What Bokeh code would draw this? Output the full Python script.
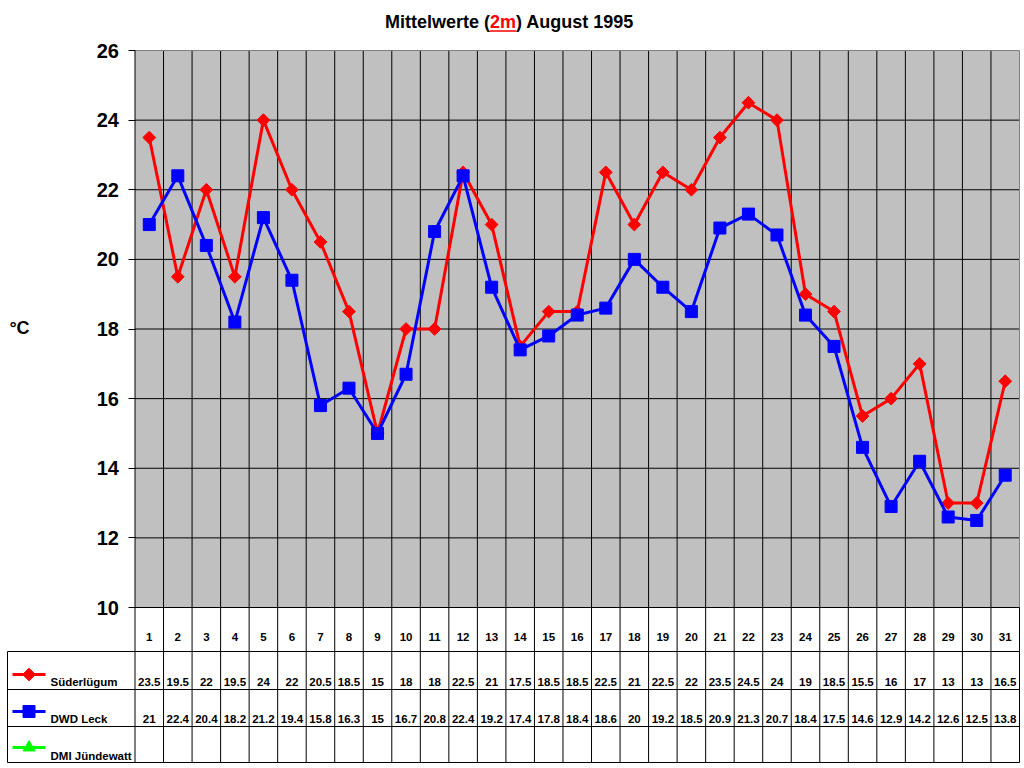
import math
from bokeh.plotting import figure
from bokeh.models import Range1d, FixedTicker, LinearAxis
from bokeh.core.properties import value
from bokeh.embed import file_html
from bokeh.resources import INLINE

# ---------------- data ----------------
days = list(range(1, 32))
sueder = [23.5, 19.5, 22, 19.5, 24, 22, 20.5, 18.5, 15, 18, 18, 22.5, 21, 17.5, 18.5, 18.5,
          22.5, 21, 22.5, 22, 23.5, 24.5, 24, 19, 18.5, 15.5, 16, 17, 13, 13, 16.5]
dwd = [21, 22.4, 20.4, 18.2, 21.2, 19.4, 15.8, 16.3, 15, 16.7, 20.8, 22.4, 19.2, 17.4, 17.8, 18.4,
       18.6, 20, 19.2, 18.5, 20.9, 21.3, 20.7, 18.4, 17.5, 14.6, 12.9, 14.2, 12.6, 12.5, 13.8]
dmi_days = []
dmi = []
series_names = ["Süderlügum", "DWD Leck", "DMI Jündewatt"]
y_ticks = [10, 12, 14, 16, 18, 20, 22, 24, 26]
title_parts = ["Mittelwerte (", "2m", ") August 1995"]
unit_label = "°C"

# ---------------- layout helpers (pixel layout -> data space) ----------------
FONT = "Liberation Sans"
RED, BLUE, GREEN = "#FF0000", "#0000FF", "#00FF00"
W, H = 1020, 764
X_LEFT_PX, X_RIGHT_PX = 134.5, 1019.0      # chart column area
Y_TOP_PX, Y_BOT_PX = 50.0, 607.0           # chart 26 .. 10
XMIN, XMAX = days[0] - 0.5, days[-1] + 0.5
YMIN, YMAX = y_ticks[0], y_ticks[-1]
colw = (X_RIGHT_PX - X_LEFT_PX) / (XMAX - XMIN)
ypx = (Y_BOT_PX - Y_TOP_PX) / (YMAX - YMIN)


def px(p):
    return XMIN + (p - X_LEFT_PX) / colw


def py(q):
    return YMAX - (q - Y_TOP_PX) / ypx


p = figure(width=W, height=H, output_backend="svg", toolbar_location=None,
           x_range=Range1d(px(0), px(W)), y_range=Range1d(py(H), py(0)),
           x_axis_location=None, y_axis_location=None,
           min_border_left=0, min_border_right=0, min_border_top=0, min_border_bottom=0)
p.grid.visible = False
p.outline_line_color = None
p.background_fill_color = "white"
p.border_fill_color = "white"

# chart background
p.quad(left=[XMIN], right=[XMAX], bottom=[YMIN], top=[YMAX], fill_color="#C0C0C0", line_color=None)

# horizontal grid lines of chart
inner = y_ticks[1:-1]
p.segment(x0=[XMIN] * len(inner), x1=[XMAX] * len(inner), y0=inner, y1=inner,
          line_color="black", line_width=1)

# table row boundaries (pixel layout)
row_lines_px = [651, 689, 726, 762]
tab_bottom = py(row_lines_px[-1])
leg_left = px(7)

# vertical column boundaries through chart and table
bounds = [d + 0.5 for d in days[:-1]]
p.segment(x0=bounds, x1=bounds, y0=[tab_bottom] * len(bounds), y1=[YMAX] * len(bounds),
          line_color="black", line_width=1)
# chart border: left black (axis line), top/right gray
p.segment(x0=[XMIN], x1=[XMIN], y0=[tab_bottom], y1=[YMAX], line_color="black", line_width=1)
p.segment(x0=[XMIN, XMAX], x1=[XMAX, XMAX], y0=[YMAX, YMAX], y1=[YMAX, YMIN],
          line_color="#808080", line_width=1)
p.segment(x0=[XMAX], x1=[XMAX], y0=[YMIN], y1=[tab_bottom], line_color="black", line_width=1)
# table horizontal lines
p.segment(x0=[XMIN], x1=[XMAX], y0=[YMIN], y1=[YMIN], line_color="black", line_width=1)
rl = [py(v) for v in row_lines_px]
p.segment(x0=[leg_left] * 4, x1=[XMAX] * 4, y0=rl, y1=rl, line_color="black", line_width=1)
p.segment(x0=[leg_left], x1=[leg_left], y0=[rl[0]], y1=[rl[-1]], line_color="black", line_width=1)

# y axis
yax = LinearAxis(fixed_location=XMIN, ticker=FixedTicker(ticks=y_ticks))
yax.axis_line_color = None
yax.major_tick_out = 7
yax.major_tick_in = 0
yax.minor_tick_out = 0
yax.minor_tick_in = 0
yax.major_tick_line_color = "black"
yax.major_label_standoff = 9
yax.major_label_text_font = FONT
yax.major_label_text_font_style = "bold"
yax.major_label_text_font_size = "20px"
yax.major_label_text_color = "black"
p.add_layout(yax, "left")

# series
DIAMOND = dict(marker="square", angle=math.pi / 4, size=9)
p.line(days, sueder, line_color=RED, line_width=3)
p.scatter(days, sueder, fill_color=RED, line_color=RED, **DIAMOND)
p.line(days, dwd, line_color=BLUE, line_width=3)
p.scatter(days, dwd, marker="square", size=12, fill_color=BLUE, line_color=BLUE)
p.line(dmi_days, dmi, line_color=GREEN, line_width=3)
p.scatter(dmi_days, dmi, marker="triangle", size=12, fill_color=GREEN, line_color=GREEN)

# title
fs_t = 18
w_left = 5.834 * fs_t
w_mid = 1.445 * fs_t
w_tot = 13.836 * fs_t
t_start = 509 - w_tot / 2
t_mid = t_start + w_left
ty = py(21)
tkw = dict(text_font=value(FONT), text_font_style="bold", text_font_size=f"{fs_t}px",
           text_baseline="middle")
p.text([px(t_mid)], [ty], text=[title_parts[0]], text_align="right", text_color="black", **tkw)
p.text([px(t_mid)], [ty], text=[title_parts[1]], text_align="left", text_color=RED, **tkw)
p.text([px(t_mid + w_mid)], [ty], text=[title_parts[2]], text_align="left", text_color="black", **tkw)
p.segment(x0=[px(t_mid)], x1=[px(t_mid + w_mid)], y0=[py(30.5)], y1=[py(30.5)],
          line_color=RED, line_width=1.5)

# unit label
p.text([px(19)], [py(327.5)], text=[unit_label], text_align="center", text_baseline="middle",
       text_font=value(FONT), text_font_style="bold", text_font_size="18px", text_color="black")

# table texts
cell_kw = dict(text_font=value(FONT), text_font_style="bold", text_font_size="11.5px",
               text_color="black", text_baseline="middle")
p.text(days, [py(636)] * len(days), text=[str(d) for d in days], text_align="center", **cell_kw)
row_mid_px = [681.5, 718, 755]
for mid, vals in zip(row_mid_px, [sueder, dwd, dmi]):
    if vals:
        p.text(days[:len(vals)], [py(mid)] * len(vals), text=[f"{v:g}" for v in vals],
               text_align="center", **cell_kw)

# legend column
colors = [RED, BLUE, GREEN]
marks = [DIAMOND, dict(marker="square", size=12), dict(marker="triangle", size=12)]
leg_line_px = [674, 711, 747]
for name, c, mk, lp, mid in zip(series_names, colors, marks, leg_line_px, row_mid_px):
    p.segment(x0=[px(12)], x1=[px(45)], y0=[py(lp)], y1=[py(lp)], line_color=c, line_width=3)
    p.scatter([px(28.5)], [py(lp)], fill_color=c, line_color=c, **mk)
    p.text([px(50)], [py(mid)], text=[name], text_align="left", **cell_kw)

open("out.html", "w").write(file_html(p, INLINE))
